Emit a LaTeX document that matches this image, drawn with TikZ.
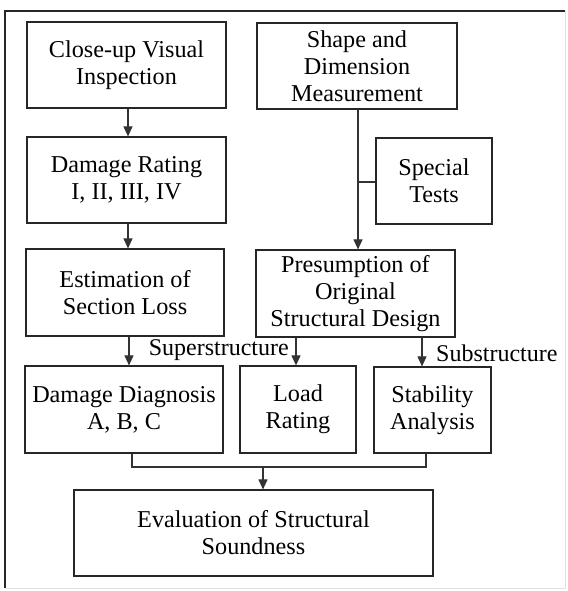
\documentclass[tikz,border=0pt]{standalone}
\usepackage{fontspec}
\setmainfont{Liberation Serif}
\usetikzlibrary{arrows.meta}
\begin{document}
\begin{tikzpicture}[x=1pt,y=-1pt,
  box/.style={draw=black!85, line width=1.2pt, rectangle, align=center, inner sep=0pt,
    font={\fontsize{24.2}{27}\selectfont}},
  conn/.style={draw=black!80, line width=1.1pt},
  arr/.style={conn, -{Triangle[width=9pt,length=10pt]}},
  lbl/.style={font={\fontsize{24}{27}\selectfont}, inner sep=0pt}]
\useasboundingbox (0,0) rectangle (567,591);
% frame
\draw[black!85, line width=1.1pt] (5,588) -- (5,11) -- (565,11);
\draw[black!12, line width=0.8pt] (565,11) -- (565,588) -- (5,588);
% boxes
\node[box, minimum width=199pt, minimum height=86pt] (civ) at (126.5,65) {Close-up Visual\\Inspection};
\node[box, minimum width=199pt, minimum height=86pt] (dr) at (126.5,180) {Damage Rating\\I, II, III, IV};
\node[box, minimum width=198pt, minimum height=87pt] (esl) at (125,292.5) {Estimation of\\Section Loss};
\node[box, minimum width=198pt, minimum height=87pt] (dd) at (124,409.5) {Damage Diagnosis\\A, B, C};
\node[box, minimum width=200pt, minimum height=86pt] (sdm) at (357,66) {Shape and\\Dimension\\Measurement};
\node[box, minimum width=116pt, minimum height=86pt] (st) at (434,181) {Special\\Tests};
\node[box, minimum width=199pt, minimum height=87pt] (pos) at (355.5,293.5) {Presumption of\\Original\\Structural Design};
\node[box, minimum width=116pt, minimum height=87pt] (lr) at (298,409.5) {Load\\Rating};
\node[box, minimum width=117pt, minimum height=86pt] (sa) at (432.5,410) {Stability\\Analysis};
\node[box, minimum width=359pt, minimum height=86pt] (ev) at (253.5,533) {Evaluation of Structural\\Soundness};
% labels
\node[lbl, anchor=east] (sup) at (289,350) {Superstructure};
\node[lbl, anchor=west] (sub) at (436,353) {Substructure};
% connectors
\draw[arr] (civ.south -| 128,0) -- (dr.north -| 128,0);
\draw[arr] (dr.south -| 128,0) -- (esl.north -| 128,0);
\draw[arr] (esl.south -| 129,0) -- (dd.north -| 129,0);
\draw[arr] (sdm.south -| 358,0) -- (pos.north -| 358,0);
\coordinate (j) at (358,182);
\draw[conn] (st.west |- j) -- (j);
\draw[arr] (pos.south -| 296,0) -- (lr.north -| 296,0);
\draw[arr] (pos.south -| 422,0) -- (sa.north -| 422,0);
\coordinate (c1) at (132,467);
\coordinate (c2) at (426,467);
\coordinate (c3) at (263,467);
\draw[conn] (dd.south -| c1) -- (c1) -- (c2) -- (sa.south -| c2);
\draw[arr] (c3) -- (ev.north -| c3);
\end{tikzpicture}
\end{document}
